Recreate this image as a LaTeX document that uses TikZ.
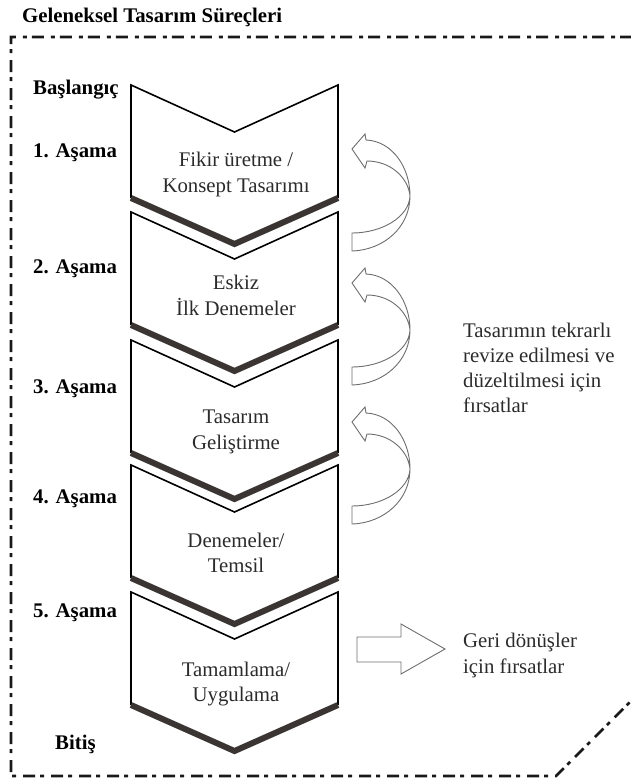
\documentclass[tikz,border=0pt]{standalone}
\usepackage{fontspec}
\setmainfont{Liberation Serif}
\definecolor{inkgray}{HTML}{2B2B2B}
\definecolor{barcol}{HTML}{3A3532}
\definecolor{arrgray}{HTML}{6E6E6E}
\tikzset{
  bendarrow/.pic={
    \draw[hollow] (0,0) -- (13,-15) -- (14,-9)
      .. controls (40,-8) and (58,18) .. (58,47)
      .. controls (58,78) and (32,101) .. (0,102)
      -- (0,84)
      .. controls (30,84) and (57,68) .. (58,47)
      .. controls (56,28) and (38,12) .. (15,12)
      -- (13,19) -- cycle;
  }
}
\begin{document}
\begin{tikzpicture}[x=1bp,y=-1bp,
  lbl/.style={font=\fontsize{20.8bp}{26bp}\selectfont\bfseries, inner sep=0, anchor=base west},
  txt/.style={font=\fontsize{20.8bp}{26bp}\selectfont, text=inkgray, inner sep=0},
  outline/.style={draw=black, line width=1.6bp, line join=miter},
  bar/.style={draw=barcol, line width=6bp, line join=miter},
  hollow/.style={draw=arrgray, line width=0.9bp, fill=white, line join=miter},
  frame/.style={draw=black!90, line width=2.6bp, dash pattern=on 12bp off 5bp on 4bp off 7bp}]
\useasboundingbox (0,0) rectangle (631,780);

% title
\node[lbl] (title) at (22,23) {Geleneksel Tasarım Süreçleri};

% dash-dot frame with chamfered lower right corner
\begin{scope}
  \clip (0,0) rectangle (631,780);
  \draw[frame] (660,37) -- (11,37) -- (11,776) -- (556,776) -- (660,672);
\end{scope}

% stage labels
\node[lbl] (start) at (33,94)  {Başlangıç};
\node[lbl] (s1)    at (33,157) {1. Aşama};
\node[lbl] (s2)    at (33,273) {2. Aşama};
\node[lbl] (s3)    at (33,393) {3. Aşama};
\node[lbl] (s4)    at (33,503) {4. Aşama};
\node[lbl] (s5)    at (33,617) {5. Aşama};
\node[lbl] (end)   at (55,749) {Bitiş};

% chevrons
\foreach \yt in {85,212,340,465,592} {
  \draw[outline] (131,\yt+113) -- (131,\yt) -- (234.5,\yt+47) -- (338,\yt) -- (338,\yt+113);
  \draw[bar] (131,\yt+113) -- (234.5,\yt+159) -- (338,\yt+113);
}

% chevron texts
\node[txt, anchor=base] (c1a) at (236,166) {Fikir üretme /};
\node[txt, anchor=base] (c1b) at (236,192) {Konsept Tasarımı};
\node[txt, anchor=base] (c2a) at (236,289) {Eskiz};
\node[txt, anchor=base] (c2b) at (236,315) {İlk Denemeler};
\node[txt, anchor=base] (c3a) at (236,423) {Tasarım};
\node[txt, anchor=base] (c3b) at (236,449) {Geliştirme};
\node[txt, anchor=base] (c4a) at (236,547) {Denemeler/};
\node[txt, anchor=base] (c4b) at (236,572) {Temsil};
\node[txt, anchor=base] (c5a) at (236,676) {Tamamlama/};
\node[txt, anchor=base] (c5b) at (236,701) {Uygulama};

% curved feedback arrows
\pic (loopA) at (352,149) {bendarrow};
\pic (loopB) at (352,283) {bendarrow};
\pic (loopC) at (352,422) {bendarrow};

% straight hollow arrow
\draw[hollow] (357,637) -- (401,637) -- (401,624) -- (445,649) -- (401,674) -- (401,662) -- (357,662) -- cycle;

% side notes
\node[txt, anchor=base west] (n1) at (463,337) {Tasarımın tekrarlı};
\node[txt, anchor=base west] (n2) at (463,362) {revize edilmesi ve};
\node[txt, anchor=base west] (n3) at (463,387) {düzeltilmesi için};
\node[txt, anchor=base west] (n4) at (463,412) {fırsatlar};
\node[txt, anchor=base west] (g1) at (463,647) {Geri dönüşler};
\node[txt, anchor=base west] (g2) at (463,673) {için fırsatlar};
\end{tikzpicture}
\end{document}
